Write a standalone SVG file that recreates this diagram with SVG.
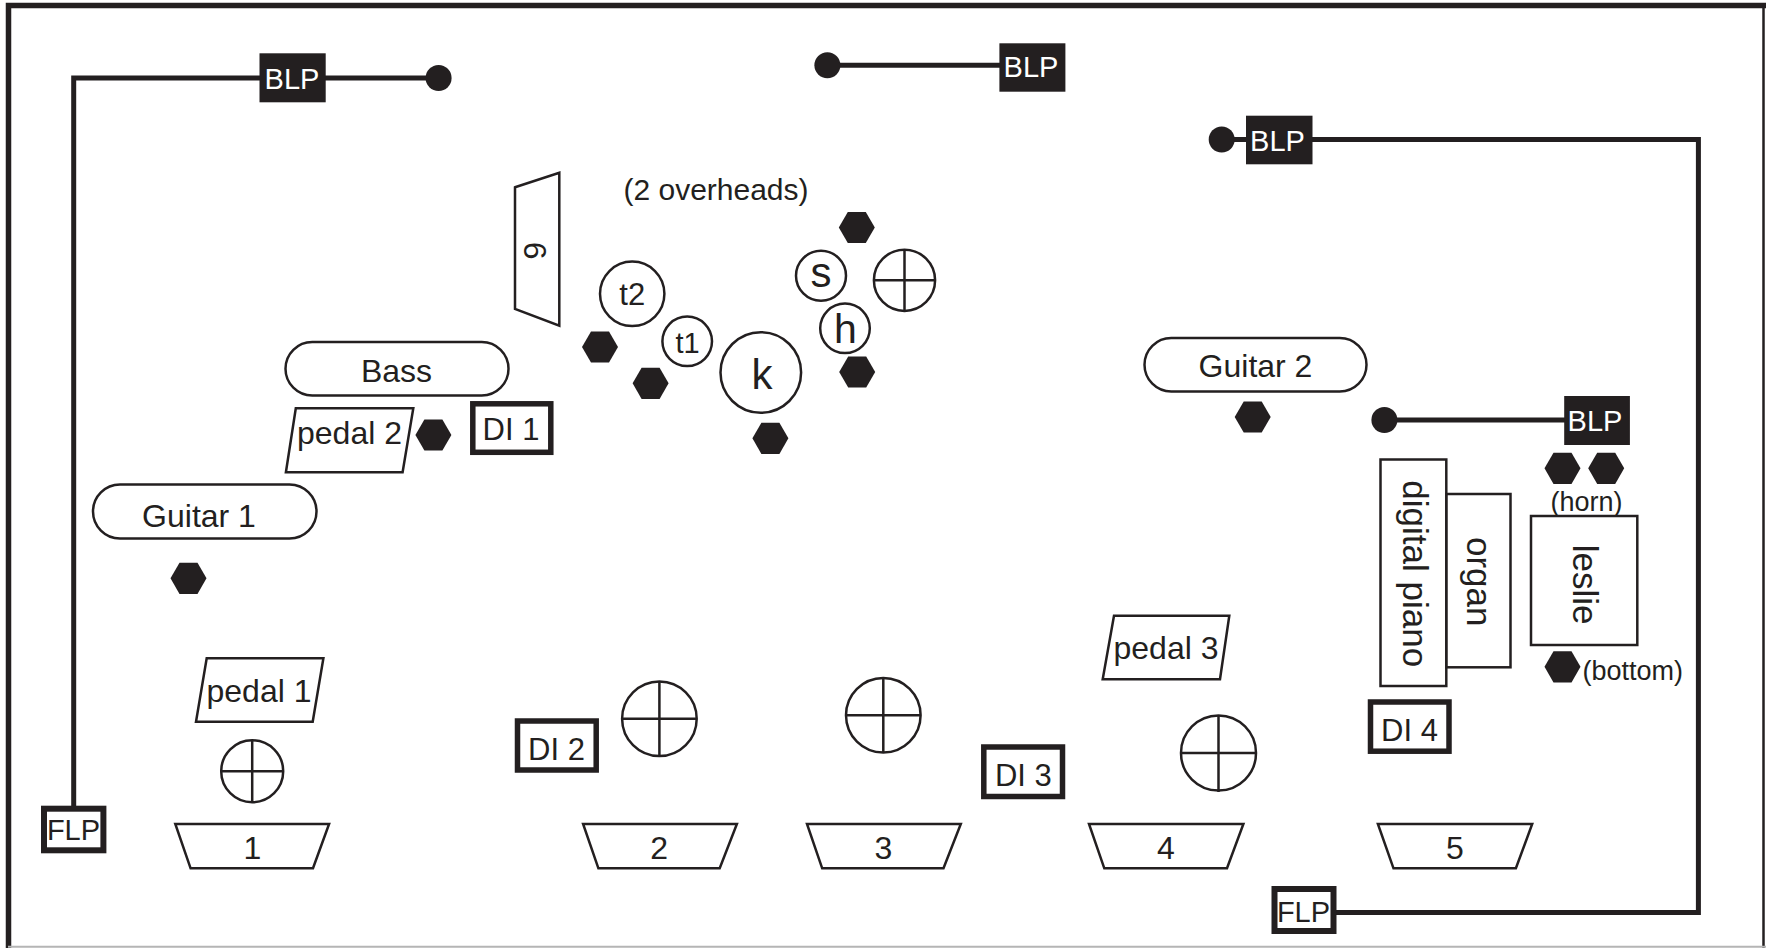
<svg xmlns="http://www.w3.org/2000/svg" xmlns:xlink="http://www.w3.org/1999/xlink" width="1766" height="948" viewBox="0 0 1766 948">
<style>
.ln{fill:#fff;stroke:#231f20;stroke-width:2.5}
.x{fill:none;stroke:#231f20;stroke-width:2.5}
.conn{fill:none;stroke:#231f20;stroke-width:5}
.dk{fill:#231f20}
.box{fill:#fff;stroke:#231f20;stroke-width:5.5}
text{font-family:"Liberation Sans",Arial,sans-serif;fill:#231f20;text-anchor:middle}
.w{fill:#fff;font-size:29px}
.f29{font-size:29px}
.f31{font-size:31px}
.f32{font-size:32px}
.f35{font-size:35px}
.f27{font-size:27px}
</style>
<defs>
<polygon id="hex" points="-18,0 -9,-15.6 9,-15.6 18,0 9,15.6 -9,15.6" fill="#231f20"/>
<marker id="dot" markerUnits="userSpaceOnUse" markerWidth="28" markerHeight="28" refX="14" refY="14" orient="auto"><circle cx="14" cy="14" r="13" fill="#231f20"/></marker>
</defs>
<rect width="1766" height="948" fill="#fff"/>
<g id="border">
<path d="M8.5 948V5.5H1766" fill="none" stroke="#231f20" stroke-width="5.5"/>
<path d="M1763.5 5.5V948" fill="none" stroke="#231f20" stroke-width="2.5"/>
<path d="M8 946.8H1766" fill="none" stroke="#b5b5b5" stroke-width="2"/>
</g>
<g id="connectors">
<path class="conn" d="M73.7 806V78H438.6" marker-end="url(#dot)"/>
<path class="conn" d="M1000 65.3H827.4" marker-end="url(#dot)"/>
<path class="conn" d="M1336 912.5H1698.4V139.5H1221.7" marker-end="url(#dot)"/>
<path class="conn" d="M1565 420H1384.4" marker-end="url(#dot)"/>
</g>
<g id="blp1"><rect class="dk" x="259.5" y="53.3" width="66.2" height="49"/><text class="w" x="292" y="89">BLP</text></g>
<g id="blp2"><rect class="dk" x="999.4" y="43.3" width="66" height="48.4"/><text class="w" x="1031" y="76.5">BLP</text></g>
<g id="blp3"><rect class="dk" x="1246" y="115.7" width="66.5" height="48.6"/><text class="w" x="1277.5" y="150.5">BLP</text></g>
<g id="blp4"><rect class="dk" x="1564.2" y="396" width="65.7" height="49"/><text class="w" x="1595" y="431">BLP</text></g>
<g id="flp1"><rect x="44" y="808.7" width="59.4" height="41.6" fill="#fff" stroke="#231f20" stroke-width="6"/><text class="f29" x="73.5" y="840">FLP</text></g>
<g id="flp2"><rect x="1274.5" y="889" width="59" height="42" fill="#fff" stroke="#231f20" stroke-width="6"/><text class="f29" x="1303.5" y="921.5">FLP</text></g>
<g id="wedge6"><polygon class="ln" points="515,187.3 559.3,172.7 559.3,325.7 515,309"/><text class="f32" transform="translate(523.5,250.7) rotate(90)">6</text></g>
<g id="overheads"><text style="font-size:30px" x="716" y="200">(2 overheads)</text></g>
<g id="t2"><circle class="ln" cx="632.2" cy="293.8" r="32.2"/><text class="f31" x="632.2" y="305">t2</text></g>
<g id="t1"><circle class="ln" cx="687.2" cy="341.3" r="24.8"/><text style="font-size:29px" x="687.5" y="353">t1</text></g>
<g id="kick"><circle class="ln" cx="760.8" cy="372.5" r="40.3"/><text style="font-size:42px" x="762" y="389">k</text></g>
<g id="snare"><circle class="ln" cx="821" cy="275.7" r="25"/><text style="font-size:42px" x="821" y="287">s</text></g>
<g id="hihat"><circle class="ln" cx="845" cy="328.3" r="24.8"/><text style="font-size:41px" x="845.5" y="343.3">h</text></g>
<g id="drum-vocal"><circle class="ln" cx="904.5" cy="280.3" r="30.6"/><path class="x" d="M873.9 280.3H935.1M904.5 249.7V310.9"/></g>
<g id="hex-oh"><use xlink:href="#hex" x="856.8" y="227.5"/></g>
<g id="hex-t2"><use xlink:href="#hex" x="600" y="347"/></g>
<g id="hex-t1"><use xlink:href="#hex" x="650.6" y="383.3"/></g>
<g id="hex-k"><use xlink:href="#hex" x="770.4" y="438.3"/></g>
<g id="hex-h"><use xlink:href="#hex" x="857.2" y="372"/></g>
<g id="bass"><rect class="ln" x="285.5" y="342" width="223" height="53.5" rx="26.75"/><text class="f32" x="396.5" y="382">Bass</text></g>
<g id="pedal2"><polygon class="ln" points="295.8,408.3 413.3,408.3 402.6,472.3 285.9,472.3"/><text class="f32" x="349.5" y="444">pedal 2</text></g>
<g id="hex-bass"><use xlink:href="#hex" x="433.4" y="435"/></g>
<g id="di1"><rect class="box" x="472.8" y="403.8" width="78" height="48.5"/><text class="f31" x="511" y="440">DI 1</text></g>
<g id="guitar1"><rect class="ln" x="93" y="484.5" width="223.5" height="54" rx="27"/><text class="f32" x="199" y="526.5">Guitar 1</text></g>
<g id="hex-g1"><use xlink:href="#hex" x="188.5" y="578.3"/></g>
<g id="pedal1"><polygon class="ln" points="206.7,658.3 323.4,658.3 312.7,721.7 196,721.7"/><text class="f32" x="259" y="702">pedal 1</text></g>
<g id="amp1"><circle class="ln" cx="252.2" cy="771.2" r="31"/><path class="x" d="M221.2 771.2H283.2M252.2 740.2V802.2"/></g>
<g id="di2"><rect class="box" x="517.5" y="721" width="78.7" height="49"/><text class="f31" x="556.5" y="760">DI 2</text></g>
<g id="amp2"><circle class="ln" cx="659.4" cy="718.8" r="37.3"/><path class="x" d="M622.1 718.8H696.7M659.4 681.5V756.1"/></g>
<g id="amp3"><circle class="ln" cx="883.3" cy="715.3" r="37.3"/><path class="x" d="M846 715.3H920.6M883.3 678V752.6"/></g>
<g id="di3"><rect class="box" x="983.8" y="747" width="78.7" height="49.5"/><text class="f31" x="1023.4" y="786">DI 3</text></g>
<g id="pedal3"><polygon class="ln" points="1114,615.7 1229.3,615.7 1220,679.3 1102.7,679.3"/><text class="f32" x="1166" y="659">pedal 3</text></g>
<g id="amp4"><circle class="ln" cx="1218.5" cy="753" r="37.5"/><path class="x" d="M1181 753H1256M1218.5 715.5V792"/></g>
<g id="guitar2"><rect class="ln" x="1144.5" y="338" width="222" height="53.5" rx="26.75"/><text class="f32" x="1255.5" y="377">Guitar 2</text></g>
<g id="hex-g2"><use xlink:href="#hex" x="1252.7" y="417"/></g>
<g id="hex-horn1"><use xlink:href="#hex" x="1562.5" y="468.3"/></g>
<g id="hex-horn2"><use xlink:href="#hex" x="1606.2" y="468.3"/></g>
<g id="horn-label"><text class="f27" x="1586.5" y="511">(horn)</text></g>
<g id="digital-piano"><rect class="ln" x="1380.5" y="459.5" width="65.8" height="226.5"/><text class="f35" transform="translate(1403,573.7) rotate(90)">digital piano</text></g>
<g id="organ"><rect class="ln" x="1446.5" y="494" width="64" height="173.3"/><text class="f35" transform="translate(1466.5,581.7) rotate(90)">organ</text></g>
<g id="leslie"><rect class="ln" x="1531" y="516" width="106.3" height="129"/><text class="f35" transform="translate(1572.5,584.7) rotate(90)">leslie</text></g>
<g id="hex-bottom"><use xlink:href="#hex" x="1562.5" y="666.8"/><text class="f27" x="1582.5" y="680" style="text-anchor:start">(bottom)</text></g>
<g id="di4"><rect class="box" x="1370.5" y="702" width="78.5" height="49.2"/><text class="f31" x="1409.5" y="741">DI 4</text></g>
<g id="wedge1"><polygon class="ln" points="175.3,824 329.1,824 313,868.3 190.6,868.3"/><text class="f32" x="252.5" y="859">1</text></g>
<g id="wedge2"><polygon class="ln" points="583.1,824 736.9,824 719.7,868.3 598.4,868.3"/><text class="f32" x="659.2" y="859">2</text></g>
<g id="wedge3"><polygon class="ln" points="807,824 960.8,824 943.5,868.3 822.2,868.3"/><text class="f32" x="883.5" y="859">3</text></g>
<g id="wedge4"><polygon class="ln" points="1089,824 1243.4,824 1227,868.3 1104.3,868.3"/><text class="f32" x="1166" y="859">4</text></g>
<g id="wedge5"><polygon class="ln" points="1377.9,824 1532.2,824 1515.9,868.3 1393.5,868.3"/><text class="f32" x="1455" y="859">5</text></g>
</svg>
